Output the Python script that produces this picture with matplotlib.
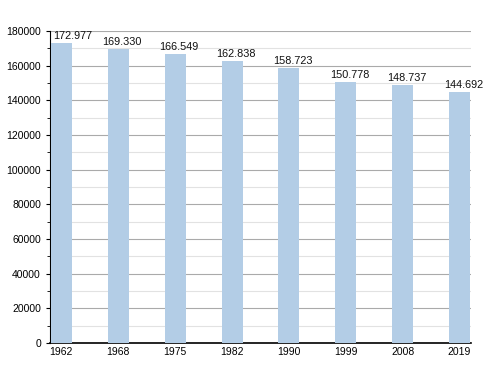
import matplotlib
matplotlib.use("Agg")
import matplotlib.pyplot as plt
from matplotlib.ticker import MultipleLocator

years = ["1962", "1968", "1975", "1982", "1990", "1999", "2008", "2019"]
population = [172977, 169330, 166549, 162838, 158723, 150778, 148737, 144692]
labels = ["172.977", "169.330", "166.549", "162.838", "158.723", "150.778", "148.737", "144.692"]

plt.rcParams['font.family'] = ['Liberation Sans', 'DejaVu Sans']
fig = plt.figure(figsize=(5, 3.73), dpi=100)
ax = fig.add_axes([0.1, 0.080, 0.842, 0.837])

x = list(range(len(years)))
ax.bar(x, population, width=0.37, color="#b3cde6", zorder=3)
for xi, v, lab in zip(x, population, labels):
    shift = 0.2 if xi == 0 else 0.07
    ax.text(xi + shift, v + 1200, lab, ha="center", va="bottom", fontsize=7.8, color="#111111", zorder=4)

ax.set_xlim(-0.2, 7.2)
ax.set_ylim(0, 180000)
ax.set_xticks(x)
ax.set_xticklabels(years, fontsize=7.5)
ax.yaxis.set_major_locator(MultipleLocator(20000))
ax.yaxis.set_minor_locator(MultipleLocator(10000))
ax.tick_params(axis='y', labelsize=7.5, length=3, which='major')
ax.tick_params(axis='y', length=2, which='minor')
ax.tick_params(axis='x', length=0, pad=3)
ax.grid(axis='y', which='major', color="#aaaaaa", linewidth=0.8, zorder=0)
ax.grid(axis='y', which='minor', color="#e2e2e2", linewidth=0.8, zorder=0)
for s in ["top", "right"]:
    ax.spines[s].set_visible(False)
ax.spines["left"].set_linewidth(0.8)
ax.spines["bottom"].set_linewidth(1.2)

fig.savefig("out.png", dpi=100)
